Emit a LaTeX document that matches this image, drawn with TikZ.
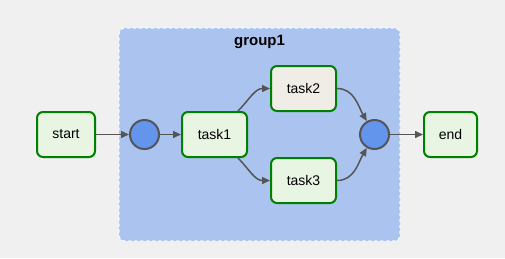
\documentclass[tikz,border=0pt]{standalone}
\usepackage{fontspec}
\setmainfont{Liberation Sans}
\definecolor{verdeBorda}{RGB}{0,128,0}
\definecolor{verdeFundo}{RGB}{231,245,226}
\definecolor{begeFundo}{RGB}{240,237,230}
\definecolor{azulNo}{RGB}{100,149,237}
\definecolor{cinzaSeta}{RGB}{85,85,85}
\definecolor{azulGrupo}{RGB}{171,196,239}
\definecolor{cinzaFundo}{RGB}{240,240,240}
\usetikzlibrary{arrows.meta,positioning,fit,backgrounds}
\tikzset{
  tarefa/.style={rectangle, draw=verdeBorda, line width=2pt, fill=verdeFundo,
                 rounded corners=6pt, minimum width=65pt, minimum height=45pt,
                 inner sep=0pt, align=center, font=\fontsize{14}{16}\selectfont},
  juncao/.style={circle, draw=cinzaSeta, line width=2pt, fill=azulNo,
                 minimum size=29pt, inner sep=0pt},
  grupo/.style={rectangle, draw=white!90!azulGrupo, dashed, line width=1.2pt,
                fill=azulGrupo, rounded corners=6pt, inner xsep=10pt, inner ysep=37pt},
  seta/.style={-{Triangle[length=8pt, width=7pt]}, line width=1.5pt, cinzaSeta},
}
\begin{document}
\begin{tikzpicture}[x=1pt, y=-1pt, node distance=22pt]
  \useasboundingbox (0,0) rectangle (505,258);
  \node[tarefa, minimum width=58pt] (start) at (66,134.5) {start};
  \node[juncao, right=33pt of start] (j1) {};
  \node[tarefa, right=21pt of j1] (task1) {task1};
  \node[tarefa, fill=begeFundo, right=of task1, yshift=46pt] (task2) {task2};
  \node[tarefa, right=of task1, yshift=-46pt] (task3) {task3};
  \node[juncao, right=of task2, yshift=-46pt] (j2) {};
  \node[tarefa, minimum width=53pt, right=33pt of j2] (end) {end};
  \begin{scope}[on background layer]
    \fill[cinzaFundo] (0,0) rectangle (505,258);
    \node[grupo, fit=(j1)(task2)(task3)(j2)] (group1) {};
  \end{scope}
  \node[below=4pt of group1.north, font=\fontsize{15}{17}\selectfont\bfseries] (titulo) {group1};
  \draw[seta] (start) -- (j1);
  \draw[seta] (j1) -- (task1);
  \draw[seta] (task1) to[out=45, in=180] (task2);
  \draw[seta] (task1) to[out=-45, in=180] (task3);
  \draw[seta] (task2) to[out=0, in=120] (j2);
  \draw[seta] (task3) to[out=0, in=-120] (j2);
  \draw[seta] (j2) -- (end);
\end{tikzpicture}
\end{document}
